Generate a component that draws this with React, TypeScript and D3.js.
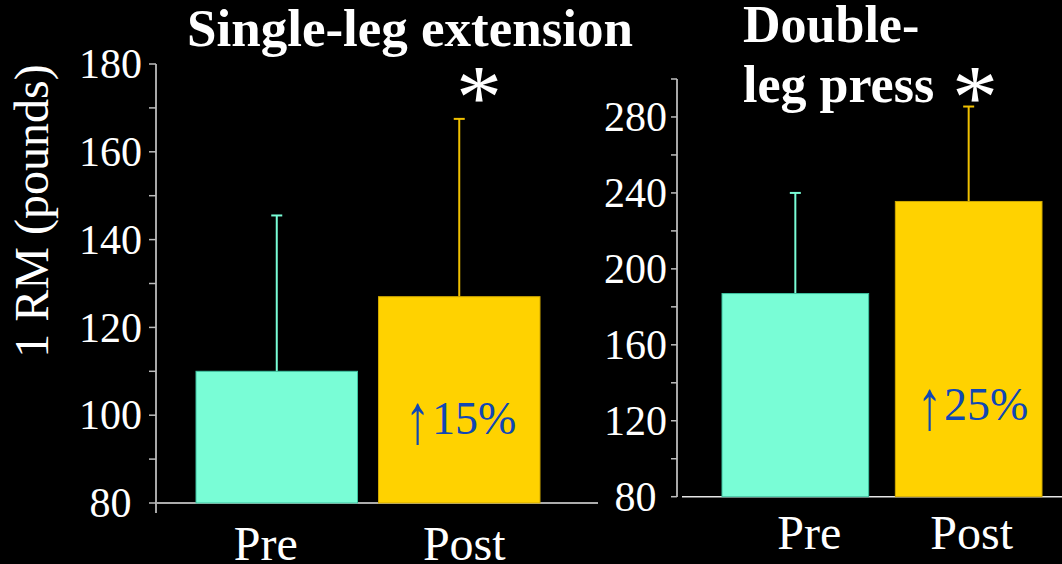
import React from "react";
import * as d3 from "d3";

const categories = ["Pre", "Post"];
const extMeans = [110, 127];
const extErrTop = [145.5, 167.5];
const pressMeans = [187, 235.5];
const pressErrTop = [240, 285.5];
const extTicks = [80, 100, 120, 140, 160, 180];
const extMinor = [90, 110, 130, 150, 170];
const pressTicks = [80, 120, 160, 200, 240, 280];
const pressMinor = [100, 140, 180, 220, 260, 300];
const changeLabels = ["15%", "25%"];

const FONT = "'Liberation Serif', 'Times New Roman', Times, serif";
const TEAL = "#79fdd6";
const GOLD = "#ffd200";
const BLUE = "#0f47b5";

type PanelProps = {
  means: number[];
  errTop: number[];
  domain: [number, number];
  yRange: [number, number];
  xRange: [number, number];
  padInner: number;
  axisX: number;
  axisBottom: number;
  tickLen: number;
  labelGap: number;
  ticks: number[];
  minor: number[];
  baseFrom: number;
  baseTo: number;
  catBaseline: number;
  catShift: number[];
  change: string;
  changeAt: number;
  changeX: number;
};

function Panel(p: PanelProps) {
  const y = d3.scaleLinear().domain(p.domain).range(p.yRange);
  const x = d3.scaleBand<string>().domain(categories).range(p.xRange).paddingInner(p.padInner).paddingOuter(0);
  const bw = x.bandwidth();
  const colors = [TEAL, GOLD];
  const strokes = ["#3fc2a0", "#d0a800"];
  const errColors = [TEAL, "#f0c000"];
  const y0 = y(p.domain[0]);
  const fmt = (d: number) => (d === p.domain[0] ? d + "\u00A0" : String(d));
  const cy = y(p.changeAt);
  return (
    <g>
      <line x1={p.baseFrom} x2={p.baseTo} y1={y0} y2={y0} stroke="#e6e6e6" strokeWidth={1.5} />
      <line x1={p.axisX} x2={p.axisX} y1={y(p.domain[1])} y2={p.axisBottom} stroke="#a8a8a8" strokeWidth={2} />
      {[...p.ticks, ...p.minor].map((t) => (
        <line key={"t" + t} x1={p.axisX - p.tickLen} x2={p.axisX} y1={y(t)} y2={y(t)} stroke="#bdbdbd" strokeWidth={1.5} />
      ))}
      {p.ticks.map((t) => (
        <text key={"l" + t} x={p.axisX - p.tickLen - p.labelGap} y={y(t)} dy="0.34em" textAnchor="end" fill="#fff" fontSize={42} fontFamily={FONT}>
          {fmt(t)}
        </text>
      ))}
      {categories.map((c, i) => {
        const cx = (x(c) as number) + bw / 2;
        return (
          <g key={c}>
            <line x1={cx} x2={cx} y1={y(p.means[i])} y2={y(p.errTop[i])} stroke={errColors[i]} strokeWidth={2} />
            <line x1={cx - 5.5} x2={cx + 5.5} y1={y(p.errTop[i])} y2={y(p.errTop[i])} stroke={errColors[i]} strokeWidth={2} />
            <rect x={x(c)} y={y(p.means[i])} width={bw} height={y0 - y(p.means[i])} fill={colors[i]} stroke={strokes[i]} strokeWidth={1} />
            <text x={cx + p.catShift[i]} y={p.catBaseline} textAnchor="middle" fill="#fff" fontSize={48} fontFamily={FONT}>
              {c}
            </text>
          </g>
        );
      })}
      <text transform={`translate(${p.changeX},${cy + 9}) scale(1.15,1.6)`} fill={BLUE} fontSize={44} fontFamily={FONT}>
        {"\u2191"}
      </text>
      <text x={p.changeX + 27} y={cy} fill={BLUE} fontSize={46} fontFamily={FONT}>
        {p.change}
      </text>
    </g>
  );
}

export default function App() {
  return (
    <svg width={1062} height={564} style={{ display: "block", position: "absolute", left: 0, top: 0, background: "#000" }}>
      <rect width={1062} height={564} fill="#000" />
      <text transform="translate(48,211) rotate(-90)" textAnchor="middle" fill="#fff" fontSize={48} fontFamily={FONT}>
        1 RM (pounds)
      </text>
      <text x={187} y={46} fill="#fff" fontSize={53} fontWeight="bold" fontFamily={FONT}>
        Single-leg extension
      </text>
      <text x={743} y={42} fill="#fff" fontSize={52} fontWeight="bold" fontFamily={FONT}>
        Double-
      </text>
      <text x={743} y={102} fill="#fff" fontSize={52} fontWeight="bold" fontFamily={FONT}>
        leg press
      </text>
      <text x={479} y={128} textAnchor="middle" fill="#fff" fontSize={92} fontFamily={FONT}>
        *
      </text>
      <text x={975} y={128} textAnchor="middle" fill="#fff" fontSize={92} fontFamily={FONT}>
        *
      </text>
      <Panel
        means={extMeans}
        errTop={extErrTop}
        domain={[80, 180]}
        yRange={[503, 64]}
        xRange={[196, 540]}
        padInner={0.115}
        axisX={156}
        axisBottom={513}
        tickLen={7}
        labelGap={7}
        ticks={extTicks}
        minor={extMinor}
        baseFrom={156}
        baseTo={598}
        catBaseline={560}
        catShift={[-11, 5]}
        change={changeLabels[0]}
        changeAt={95.8}
        changeX={405}
      />
      <Panel
        means={pressMeans}
        errTop={pressErrTop}
        domain={[80, 300]}
        yRange={[496.7, 79]}
        xRange={[722, 1042]}
        padInner={0.154}
        axisX={677}
        axisBottom={497}
        tickLen={6}
        labelGap={4}
        ticks={pressTicks}
        minor={pressMinor}
        baseFrom={682}
        baseTo={1062}
        catBaseline={549}
        catShift={[14, 3]}
        change={changeLabels[1]}
        changeAt={120.5}
        changeX={917}
      />
    </svg>
  );
}
